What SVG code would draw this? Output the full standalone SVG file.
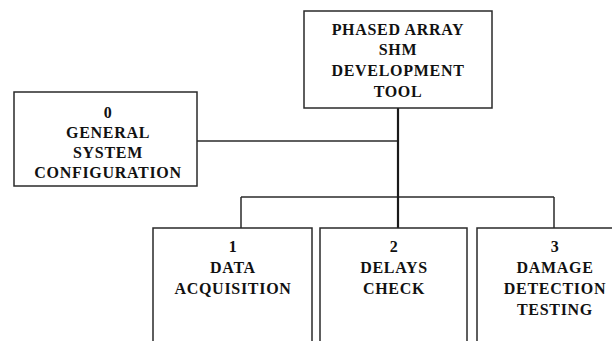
<svg xmlns="http://www.w3.org/2000/svg" width="612" height="341" viewBox="0 0 612 341">
<style>
.box{fill:#fff;stroke:#2a2a2a;stroke-width:1.5}
.ln{fill:none;stroke:#2a2a2a;stroke-width:1.5}
.main{fill:none;stroke:#1a1a1a;stroke-width:2.2}
text{font-family:"Liberation Serif","Times New Roman",serif;font-weight:bold;font-size:16px;letter-spacing:0.7px;fill:#111;text-anchor:middle}
</style>
<rect width="612" height="341" fill="#fff"/>
<g id="connectors">
<line class="ln" x1="197" y1="141" x2="398" y2="141"/>
<line class="ln" x1="241" y1="197" x2="554" y2="197"/>
<line class="ln" x1="241" y1="197" x2="241" y2="228"/>
<line class="ln" x1="554" y1="197" x2="554" y2="228"/>
<line class="main" x1="398" y1="108" x2="398" y2="228"/>
</g>
<g id="node-top">
<rect class="box" x="304" y="11" width="188" height="97"/>
<text x="398" y="35">PHASED ARRAY</text>
<text x="398" y="55">SHM</text>
<text x="398" y="76">DEVELOPMENT</text>
<text x="398" y="97">TOOL</text>
</g>
<g id="node-0">
<rect class="box" x="14" y="92" width="183" height="94"/>
<text x="108" y="118">0</text>
<text x="108" y="138">GENERAL</text>
<text x="108" y="158">SYSTEM</text>
<text x="108" y="178">CONFIGURATION</text>
</g>
<g id="node-1">
<rect class="box" x="153" y="228" width="159" height="130"/>
<text x="233" y="252">1</text>
<text x="233" y="273">DATA</text>
<text x="233" y="294">ACQUISITION</text>
</g>
<g id="node-2">
<rect class="box" x="320" y="228" width="147" height="130"/>
<text x="394" y="252">2</text>
<text x="394" y="273">DELAYS</text>
<text x="394" y="294">CHECK</text>
</g>
<g id="node-3">
<rect class="box" x="477" y="228" width="155" height="130"/>
<text x="555" y="252">3</text>
<text x="555" y="273">DAMAGE</text>
<text x="555" y="294">DETECTION</text>
<text x="555" y="315">TESTING</text>
</g>
</svg>
